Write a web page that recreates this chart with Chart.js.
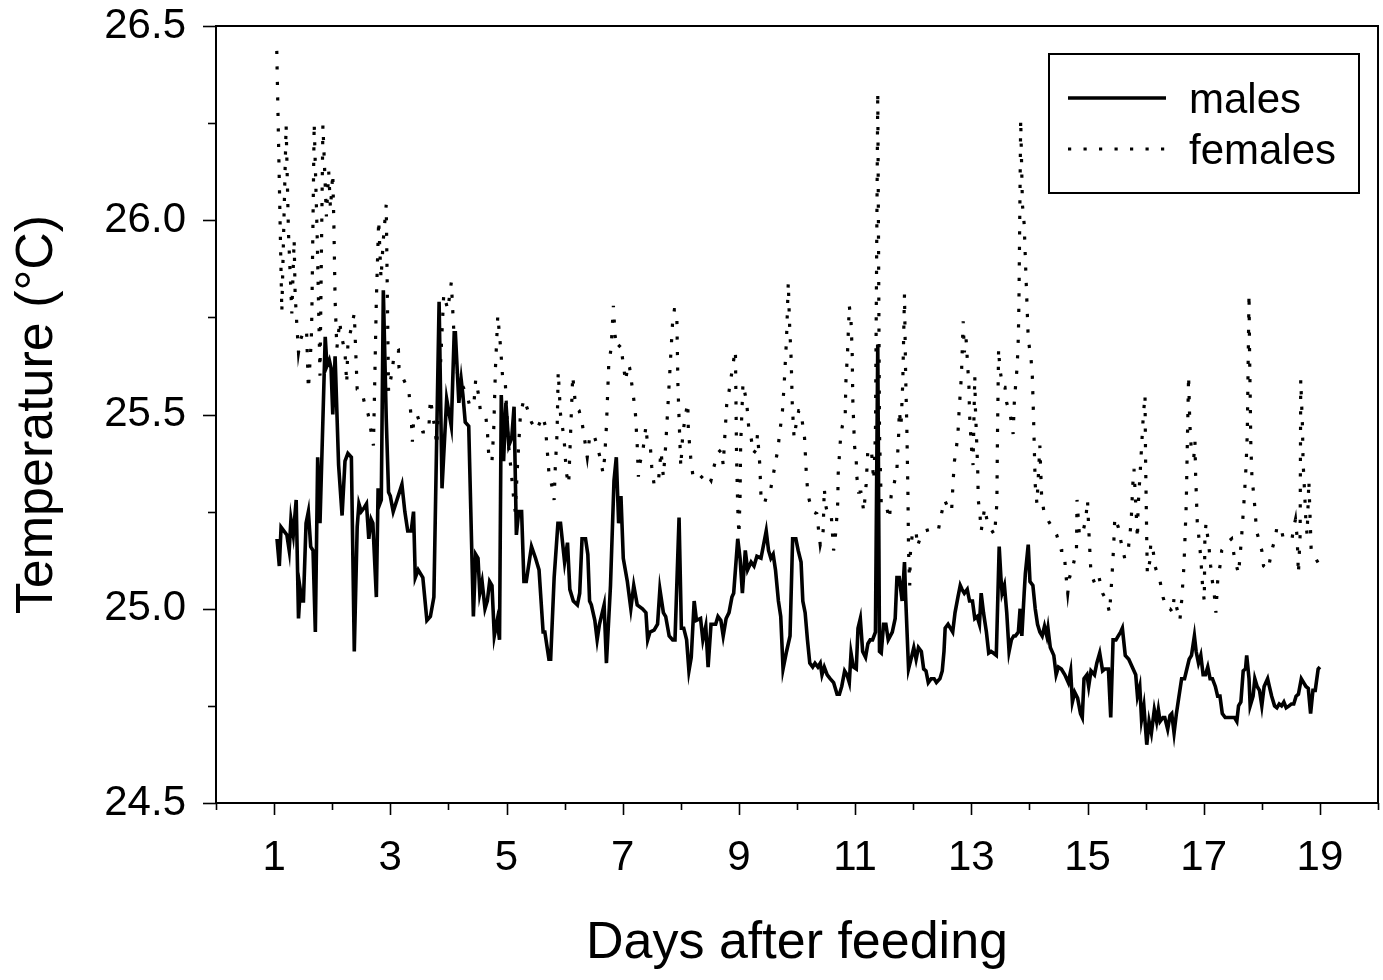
<!DOCTYPE html>
<html>
<head>
<meta charset="utf-8">
<script src="https://cdn.jsdelivr.net/npm/chart.js@4.4.1/dist/chart.umd.min.js"></script>
<style>
  html, body { margin: 0; padding: 0; background: #fff; }
  #wrap { position: relative; width: 1383px; height: 980px; }
</style>
</head>
<body>
<div id="wrap"><canvas id="c" width="1383" height="980"></canvas></div>
<script>
// ---- data ----
const seriesNames = ['males', 'females'];
const xTitle = 'Days after feeding';
const yTitle = 'Temperature (°C)';
const xTickLabels = [1, 3, 5, 7, 9, 11, 13, 15, 17, 19];
const yTickLabels = [24.5, 25.0, 25.5, 26.0, 26.5];

const maleDays = [1.05,1.09,1.12,1.22,1.26,1.29,1.33,1.38,1.42,1.45,1.48,1.505,1.55,1.59,1.63,1.67,1.71,1.75,1.79,1.88,1.91,1.95,1.98,2.01,2.05,2.11,2.17,2.22,2.27,2.33,2.38,2.43,2.46,2.50,2.55,2.59,2.63,2.67,2.70,2.76,2.79,2.82,2.845,2.88,2.93,2.97,3.00,3.05,3.20,3.25,3.30,3.36,3.40,3.43,3.48,3.56,3.63,3.69,3.75,3.84,3.89,3.97,4.05,4.10,4.12,4.18,4.22,4.25,4.29,4.35,4.43,4.47,4.51,4.54,4.58,4.63,4.67,4.71,4.75,4.79,4.84,4.88,4.91,4.95,4.99,5.04,5.09,5.13,5.17,5.21,5.26,5.30,5.34,5.43,5.50,5.56,5.63,5.66,5.73,5.76,5.82,5.885,5.93,6.00,6.05,6.09,6.15,6.22,6.26,6.30,6.36,6.40,6.43,6.46,6.52,6.56,6.60,6.68,6.72,6.79,6.85,6.89,6.93,6.97,7.01,7.08,7.14,7.19,7.25,7.34,7.40,7.43,7.47,7.54,7.60,7.64,7.70,7.74,7.80,7.86,7.90,7.97,8.01,8.05,8.10,8.14,8.18,8.23,8.27,8.34,8.38,8.43,8.47,8.52,8.60,8.64,8.69,8.73,8.78,8.83,8.88,8.91,8.98,9.02,9.06,9.11,9.15,9.21,9.26,9.31,9.38,9.47,9.51,9.55,9.59,9.63,9.68,9.72,9.76,9.82,9.88,9.925,9.98,10.02,10.07,10.10,10.14,10.18,10.22,10.27,10.31,10.36,10.40,10.43,10.47,10.52,10.57,10.63,10.69,10.73,10.77,10.82,10.86,10.90,10.93,10.97,11.02,11.05,11.09,11.13,11.18,11.22,11.26,11.30,11.35,11.39,11.42,11.45,11.49,11.53,11.57,11.64,11.69,11.72,11.76,11.81,11.85,11.87,11.92,11.97,12.01,12.05,12.09,12.14,12.18,12.22,12.26,12.31,12.36,12.40,12.46,12.50,12.53,12.55,12.60,12.64,12.68,12.72,12.77,12.81,12.84,12.88,12.93,12.97,13.02,13.06,13.10,13.14,13.17,13.21,13.26,13.30,13.34,13.38,13.43,13.48,13.51,13.53,13.57,13.61,13.65,13.69,13.73,13.76,13.81,13.84,13.87,13.91,13.93,13.98,14.01,14.06,14.10,14.14,14.18,14.22,14.26,14.30,14.32,14.36,14.42,14.46,14.50,14.55,14.61,14.67,14.71,14.74,14.78,14.83,14.88,14.91,14.94,14.99,15.02,15.06,15.12,15.16,15.21,15.26,15.30,15.36,15.40,15.44,15.49,15.53,15.57,15.60,15.65,15.71,15.77,15.83,15.86,15.90,15.93,15.97,16.02,16.06,16.10,16.15,16.19,16.22,16.25,16.30,16.33,16.38,16.42,16.45,16.49,16.53,16.57,16.62,16.67,16.71,16.75,16.79,16.84,16.87,16.91,16.95,16.99,17.03,17.07,17.11,17.15,17.20,17.24,17.28,17.32,17.37,17.41,17.45,17.49,17.53,17.57,17.60,17.64,17.68,17.72,17.74,17.78,17.80,17.85,17.88,17.92,17.96,18.00,18.04,18.10,18.13,18.17,18.22,18.26,18.30,18.34,18.38,18.42,18.47,18.51,18.55,18.59,18.63,18.68,18.72,18.76,18.80,18.84,18.88,18.92,18.97,19.00];
const maleTemp = [25.18,25.11,25.21,25.19,25.15,25.23,25.19,25.28,24.975,25.05,25.02,25.02,25.22,25.25,25.16,25.15,24.94,25.39,25.22,25.70,25.625,25.64,25.62,25.50,25.65,25.37,25.24,25.38,25.40,25.39,24.89,25.21,25.27,25.25,25.26,25.27,25.18,25.23,25.22,25.03,25.31,25.27,25.28,25.82,25.49,25.30,25.29,25.25,25.32,25.25,25.20,25.20,25.25,25.08,25.10,25.08,24.97,24.98,25.03,25.79,25.31,25.54,25.47,25.71,25.71,25.53,25.59,25.55,25.48,25.47,24.98,25.14,25.13,25.04,25.07,25.00,25.02,25.07,25.06,24.93,24.97,24.92,25.55,25.38,25.53,25.42,25.44,25.52,25.19,25.25,25.25,25.07,25.07,25.16,25.13,25.10,24.94,24.94,24.87,24.87,25.08,25.22,25.22,25.12,25.17,25.05,25.02,25.01,25.04,25.18,25.18,25.14,25.02,25.01,24.97,24.92,24.96,25.01,24.86,25.06,25.33,25.39,25.22,25.29,25.13,25.07,25.00,25.06,25.01,25.00,24.99,24.92,24.94,24.945,24.96,25.05,24.99,24.98,24.93,24.92,24.92,25.235,24.95,24.95,24.92,24.84,24.875,25.02,24.97,24.975,24.92,24.955,24.85,24.96,24.96,24.98,24.97,24.93,24.975,24.99,25.03,25.04,25.18,25.13,25.04,25.15,25.10,25.12,25.11,25.135,25.13,25.20,25.15,25.13,25.14,25.10,25.02,24.98,24.845,24.89,24.93,25.18,25.18,25.15,25.12,25.02,24.99,24.92,24.86,24.85,24.86,24.85,24.86,24.83,24.85,24.83,24.82,24.81,24.78,24.78,24.80,24.84,24.83,24.81,24.886,24.85,24.845,24.95,24.975,24.89,24.875,24.91,24.92,24.92,24.94,25.68,24.89,24.886,24.96,24.96,24.92,24.94,24.975,25.08,25.08,25.02,25.12,25.03,24.845,24.875,24.90,24.87,24.90,24.89,24.845,24.84,24.81,24.82,24.82,24.81,24.82,24.84,24.89,24.95,24.96,24.95,24.94,24.99,25.03,25.06,25.05,25.04,25.05,25.02,25.02,24.975,24.98,24.96,25.04,24.99,24.94,24.886,24.89,24.886,24.88,25.16,25.08,25.04,25.06,24.99,24.89,24.92,24.93,24.93,24.94,25.00,24.93,25.04,25.09,25.165,25.07,25.06,25.00,24.96,24.94,24.93,24.955,24.93,24.95,24.90,24.88,24.83,24.85,24.845,24.83,24.81,24.84,24.76,24.785,24.77,24.73,24.72,24.82,24.83,24.80,24.84,24.83,24.86,24.886,24.84,24.845,24.845,24.72,24.92,24.92,24.93,24.94,24.95,24.88,24.87,24.85,24.83,24.775,24.80,24.715,24.75,24.65,24.71,24.68,24.74,24.71,24.74,24.71,24.72,24.72,24.69,24.725,24.73,24.68,24.73,24.77,24.82,24.82,24.845,24.87,24.88,24.93,24.89,24.86,24.88,24.83,24.83,24.85,24.82,24.82,24.80,24.775,24.775,24.73,24.72,24.72,24.72,24.72,24.72,24.71,24.75,24.76,24.84,24.845,24.88,24.82,24.75,24.775,24.82,24.80,24.79,24.75,24.80,24.82,24.80,24.775,24.75,24.745,24.755,24.75,24.76,24.745,24.75,24.755,24.755,24.775,24.78,24.82,24.81,24.80,24.795,24.73,24.79,24.79,24.845,24.85];

const femaleDays = [1.046,1.133,1.207,1.247,1.305,1.345,1.362,1.39,1.42,1.45,1.52,1.56,1.59,1.64,1.65,1.69,1.74,1.79,1.84,1.86,1.90,1.94,1.97,2.01,2.03,2.05,2.08,2.13,2.15,2.22,2.25,2.27,2.38,2.43,2.51,2.57,2.62,2.71,2.76,2.80,2.84,2.88,2.93,2.97,3.03,3.07,3.14,3.15,3.23,3.32,3.36,3.38,3.40,3.46,3.56,3.66,3.69,3.74,3.77,3.80,3.92,3.99,4.05,4.10,4.16,4.32,4.37,4.44,4.47,4.52,4.55,4.64,4.67,4.70,4.75,4.78,4.81,4.85,4.90,4.94,4.98,5.03,5.07,5.12,5.15,5.19,5.24,5.30,5.37,5.43,5.52,5.62,5.67,5.73,5.79,5.82,5.84,5.87,5.89,5.93,5.99,6.03,6.07,6.10,6.14,6.19,6.25,6.30,6.34,6.39,6.43,6.50,6.54,6.61,6.66,6.69,6.72,6.76,6.80,6.84,6.87,6.90,6.97,7.00,7.05,7.09,7.12,7.19,7.22,7.25,7.27,7.29,7.35,7.40,7.42,7.47,7.50,7.54,7.61,7.66,7.70,7.74,7.77,7.80,7.83,7.86,7.89,7.93,7.95,7.97,8.00,8.03,8.07,8.12,8.13,8.17,8.21,8.30,8.43,8.52,8.57,8.63,8.70,8.73,8.76,8.79,8.83,8.88,8.92,8.94,8.96,8.98,9.00,9.02,9.03,9.05,9.07,9.11,9.14,9.17,9.21,9.25,9.30,9.32,9.36,9.38,9.44,9.50,9.55,9.61,9.67,9.70,9.75,9.78,9.82,9.85,9.87,9.90,9.92,9.95,9.98,10.03,10.07,10.10,10.13,10.16,10.18,10.21,10.27,10.34,10.40,10.45,10.47,10.49,10.53,10.59,10.63,10.67,10.70,10.71,10.75,10.78,10.83,10.84,10.87,10.90,10.93,10.95,10.96,10.99,11.02,11.03,11.06,11.10,11.15,11.19,11.22,11.28,11.32,11.35,11.39,11.42,11.45,11.53,11.59,11.62,11.67,11.72,11.75,11.76,11.79,11.82,11.85,11.87,11.89,11.91,11.92,11.94,11.95,11.99,12.05,12.07,12.14,12.19,12.31,12.43,12.48,12.54,12.60,12.66,12.69,12.71,12.74,12.77,12.79,12.83,12.86,12.88,12.91,12.94,12.96,12.97,13.00,13.03,13.06,13.07,13.09,13.11,13.12,13.15,13.17,13.23,13.28,13.40,13.44,13.45,13.47,13.49,13.54,13.58,13.61,13.67,13.72,13.74,13.76,13.79,13.81,13.82,13.84,13.85,13.88,13.91,13.94,13.98,14.03,14.05,14.07,14.10,14.13,14.18,14.21,14.25,14.33,14.47,14.55,14.60,14.62,14.66,14.69,14.75,14.81,14.82,14.86,14.91,14.97,15.00,15.02,15.05,15.06,15.14,15.20,15.26,15.33,15.38,15.42,15.45,15.47,15.53,15.58,15.64,15.70,15.75,15.78,15.80,15.86,15.87,15.91,15.96,15.99,16.00,16.02,16.03,16.07,16.09,16.13,16.16,16.25,16.30,16.36,16.42,16.47,16.49,16.54,16.59,16.62,16.66,16.70,16.72,16.74,16.76,16.79,16.83,16.85,16.86,16.89,16.92,16.95,16.98,17.01,17.02,17.04,17.09,17.12,17.15,17.18,17.21,17.24,17.28,17.31,17.40,17.48,17.53,17.60,17.65,17.70,17.73,17.75,17.78,17.79,17.80,17.81,17.83,17.85,17.87,17.89,17.91,18.00,18.03,18.11,18.17,18.23,18.26,18.33,18.37,18.45,18.52,18.55,18.58,18.61,18.63,18.66,18.67,18.70,18.71,18.74,18.76,18.78,18.81,18.83,18.85,19.00];
const femaleTemp = [26.436,25.764,26.245,25.97,25.76,25.95,25.81,25.735,25.66,25.69,25.72,25.71,25.565,25.69,25.76,26.25,25.97,25.60,26.245,26.17,26.01,26.125,26.03,26.12,25.98,25.795,25.67,25.74,25.71,25.66,25.58,25.68,25.76,25.565,25.56,25.52,25.50,25.42,25.795,26.00,25.85,25.95,26.04,25.56,25.61,25.66,25.665,25.62,25.59,25.56,25.49,25.43,25.48,25.50,25.455,25.455,25.54,25.49,25.46,25.42,25.81,25.77,25.84,25.695,25.60,25.55,25.52,25.53,25.59,25.55,25.51,25.50,25.46,25.38,25.38,25.46,25.62,25.755,25.67,25.58,25.58,25.43,25.37,25.29,25.25,25.37,25.50,25.54,25.51,25.48,25.46,25.495,25.47,25.35,25.31,25.28,25.365,25.45,25.61,25.50,25.44,25.35,25.32,25.44,25.60,25.52,25.51,25.48,25.44,25.39,25.44,25.45,25.43,25.39,25.35,25.39,25.47,25.63,25.67,25.78,25.70,25.67,25.68,25.64,25.585,25.63,25.62,25.54,25.50,25.42,25.34,25.37,25.41,25.47,25.435,25.43,25.365,25.32,25.32,25.405,25.34,25.42,25.50,25.58,25.66,25.74,25.77,25.77,25.58,25.49,25.365,25.44,25.49,25.53,25.46,25.39,25.34,25.33,25.35,25.33,25.365,25.40,25.41,25.37,25.45,25.525,25.56,25.61,25.65,25.665,25.39,25.26,25.19,25.29,25.42,25.50,25.58,25.55,25.52,25.465,25.44,25.40,25.41,25.45,25.37,25.29,25.27,25.305,25.31,25.36,25.41,25.45,25.51,25.58,25.695,25.84,25.74,25.64,25.52,25.44,25.47,25.51,25.51,25.47,25.44,25.35,25.31,25.28,25.25,25.245,25.165,25.20,25.31,25.27,25.24,25.24,25.15,25.20,25.27,25.35,25.44,25.47,25.495,25.58,25.66,25.78,25.74,25.66,25.54,25.42,25.38,25.34,25.30,25.30,25.25,25.32,25.41,25.41,25.33,25.45,26.33,25.45,25.27,25.27,25.23,25.29,25.32,25.36,25.45,25.51,25.47,25.58,25.81,25.60,25.47,25.29,25.15,25.06,25.14,25.20,25.20,25.16,25.19,25.20,25.205,25.20,25.24,25.28,25.26,25.25,25.335,25.38,25.41,25.45,25.51,25.60,25.74,25.66,25.695,25.62,25.57,25.50,25.42,25.37,25.60,25.52,25.44,25.36,25.28,25.24,25.20,25.26,25.22,25.19,25.27,25.44,25.67,25.62,25.57,25.57,25.53,25.50,25.45,25.53,25.57,25.625,25.70,25.79,26.10,26.26,26.04,25.99,25.86,25.695,25.64,25.60,25.50,25.32,25.27,25.42,25.29,25.25,25.225,25.19,25.15,25.15,25.10,25.04,25.08,25.11,25.15,25.28,25.19,25.19,25.23,25.28,25.21,25.12,25.09,25.06,25.08,25.04,25.02,24.99,25.08,25.16,25.235,25.21,25.17,25.13,25.15,25.22,25.32,25.36,25.18,25.26,25.36,25.495,25.55,25.38,25.175,25.09,25.12,25.17,25.15,25.11,25.07,25.03,25.00,25.00,24.99,25.03,25.00,24.97,25.02,25.11,25.27,25.44,25.60,25.48,25.40,25.39,25.43,25.35,25.22,25.18,25.13,25.06,25.02,25.18,25.22,25.16,25.11,25.07,25.04,24.99,25.07,25.11,25.15,25.17,25.18,25.13,25.09,25.18,25.29,25.37,25.45,25.81,25.65,25.55,25.43,25.34,25.31,25.28,25.24,25.20,25.15,25.11,25.10,25.15,25.18,25.21,25.21,25.18,25.18,25.18,25.21,25.23,25.18,25.09,25.19,25.59,25.47,25.38,25.29,25.22,25.19,25.33,25.24,25.15,25.11];

const toPoints = (xs, ys) => xs.map((x, i) => ({ x: x, y: ys[i] }));

const FONT = "'Liberation Sans', Arial, Helvetica, sans-serif";
const AREA = { left: 216, top: 26, right: 1378, bottom: 803 };

function zeroPad(s) { s.paddingTop = 0; s.paddingBottom = 0; s.paddingLeft = 0; s.paddingRight = 0; }

// tick marks, frame and legend drawn with the library's scales
const decor = {
  id: 'decor',
  afterDraw(chart) {
    const ctx = chart.ctx;
    const xs = chart.scales.x, ys = chart.scales.y;
    const a = chart.chartArea;
    ctx.save();
    ctx.strokeStyle = '#000';
    ctx.lineWidth = 2;
    ctx.lineCap = 'butt';
    // frame top & right
    ctx.beginPath();
    ctx.moveTo(a.left, a.top); ctx.lineTo(a.right, a.top); ctx.lineTo(a.right, a.bottom);
    ctx.stroke();
    // x ticks
    ctx.lineWidth = 1.6;
    for (let d = 0; d <= 20; d++) {
      const px = Math.round(xs.getPixelForValue(d)) + 0.5;
      const len = (d % 2 === 1) ? 12 : 7;
      ctx.beginPath(); ctx.moveTo(px, a.bottom); ctx.lineTo(px, a.bottom + len); ctx.stroke();
    }
    // y ticks
    for (let k = 0; k <= 8; k++) {
      const v = 24.5 + k * 0.25;
      const py = Math.round(ys.getPixelForValue(v)) + 0.5;
      const len = (k % 2 === 0) ? 13 : 8;
      ctx.beginPath(); ctx.moveTo(a.left - len, py); ctx.lineTo(a.left, py); ctx.stroke();
    }
    // legend
    const bx = 1049, by = 54, bw = 310, bh = 139;
    ctx.lineWidth = 2;
    ctx.strokeRect(bx, by, bw, bh);
    const ds = chart.data.datasets;
    const rows = [98, 149];
    const base = [113, 164];
    ds.forEach((d, i) => {
      ctx.beginPath();
      ctx.lineWidth = d.borderWidth;
      ctx.setLineDash(d.borderDash || []);
      ctx.lineDashOffset = 0;
      ctx.moveTo(1068, rows[i]); ctx.lineTo(1166, rows[i]);
      ctx.stroke();
      ctx.setLineDash([]);
      ctx.fillStyle = '#000';
      ctx.font = '42px ' + FONT;
      ctx.textBaseline = 'alphabetic';
      ctx.textAlign = 'left';
      ctx.fillText(d.label, 1189, base[i]);
    });
    ctx.restore();
  }
};

new Chart(document.getElementById('c'), {
  type: 'line',
  data: {
    datasets: [
      { label: seriesNames[0], data: toPoints(maleDays, maleTemp), borderColor: '#000', borderWidth: 3.6,
        pointRadius: 0, tension: 0, fill: false, borderJoinStyle: 'miter' },
      { label: seriesNames[1], data: toPoints(femaleDays, femaleTemp), borderColor: '#000', borderWidth: 3.2,
        borderDash: [3.2, 12.3], borderCapStyle: 'butt', pointRadius: 0, tension: 0, fill: false }
    ]
  },
  options: {
    responsive: false,
    animation: false,
    events: [],
    layout: { padding: { left: 0, top: AREA.top, right: 1383 - AREA.right, bottom: 0 } },
    plugins: { legend: { display: false }, tooltip: { enabled: false }, title: { display: false } },
    scales: {
      x: {
        type: 'linear', min: 0, max: 20,
        afterFit(s) { s.height = 980 - AREA.bottom; zeroPad(s); },
        afterBuildTicks(s) { s.ticks = []; for (let d = 0; d <= 20; d++) s.ticks.push({ value: d }); },
        ticks: {
          autoSkip: false, maxRotation: 0, padding: 30, color: '#000',
          font: { family: FONT, size: 42 },
          callback: (v) => xTickLabels.includes(v) ? String(v) : ''
        },
        grid: { display: false, drawTicks: false },
        border: { display: true, color: '#000', width: 2 },
        title: { display: true, text: xTitle, color: '#000', font: { family: FONT, size: 52 },
                 padding: { top: 0, bottom: 5 } }
      },
      y: {
        type: 'linear', min: 24.5, max: 26.5,
        afterFit(s) { s.width = AREA.left; zeroPad(s); },
        afterBuildTicks(s) { s.ticks = yTickLabels.map(v => ({ value: v })); },
        ticks: {
          autoSkip: false, padding: 30, color: '#000',
          font: { family: FONT, size: 42 },
          callback: (v) => Number(v).toFixed(1)
        },
        grid: { display: false, drawTicks: false },
        border: { display: true, color: '#000', width: 2 },
        title: { display: true, text: yTitle, color: '#000', font: { family: FONT, size: 52 },
                 padding: { top: 6, bottom: 0 } }
      }
    }
  },
  plugins: [decor]
});
</script>
</body>
</html>
